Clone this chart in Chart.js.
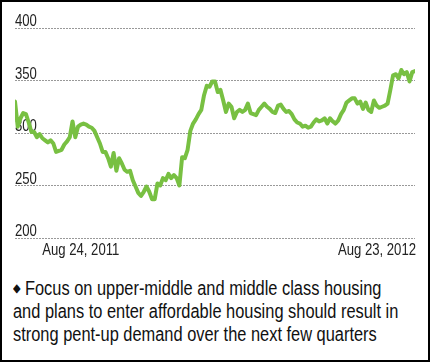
<!DOCTYPE html>
<html>
<head>
<meta charset="utf-8">
<script src="https://cdn.jsdelivr.net/npm/chart.js@4"></script>
<style>
  html, body { margin: 0; padding: 0; background: #fff; }
  #wrap { position: relative; width: 430px; height: 362px; overflow: hidden; }
  #frame { position: absolute; left: 0; top: 0; width: 430px; height: 362px; box-sizing: border-box; border: 2px solid #000; pointer-events: none; }
  #chartBox { position: absolute; left: 0; top: 0; width: 430px; height: 262px; }
  /* narrow Helvetica look: squeeze Liberation Sans horizontally */
  #note { position: absolute; left: 13px; top: 277px; width: 520px; white-space: nowrap; transform: scaleX(0.82); transform-origin: 0 0; font-family: "Liberation Sans", Arial, sans-serif; font-size: 20px; line-height: 23px; color: #111; }
  #note .dot { font-size: 12px; vertical-align: 3px; }
</style>
</head>
<body>
<div id="wrap">
  <div id="chartBox"><canvas id="myChart"></canvas></div>
  <div id="note"><span class="dot">&#9670;</span> Focus on upper-middle and middle class housing<br>and plans to enter affordable housing should result in<br>strong pent-up demand over the next few quarters</div>
  <div id="frame"></div>
</div>
<script>
// price series (Jun 2011 - Aug 23, 2012)
const prices = [
  330, 306, 314, 319, 318, 310, 301, 301, 296, 299, 295, 293, 291, 293, 290, 282, 283, 284, 289, 292, 296, 311, 296, 306, 308, 309, 308, 306,
  305, 302, 296, 290, 282, 282, 276, 268, 281, 264, 276, 271, 265, 263, 264, 255, 249, 243, 240, 244, 249, 244, 237, 237, 252, 250, 257, 255, 261, 257, 260, 257, 250, 277, 276, 284,
  302, 309, 313, 318, 322, 336, 345, 344, 349, 349, 339, 341, 331, 320, 328, 325, 314, 320, 322, 320, 322, 328, 319, 318, 317, 322, 325, 328, 325, 323, 320, 319, 326, 327, 323, 320, 321, 318,
  313, 310, 309, 306, 307, 305, 306, 310, 313, 311, 312, 314, 309, 314, 311, 309, 312, 318, 322, 329, 331, 333, 333, 328, 330, 323, 329, 322, 320, 331, 326, 324, 325, 326, 328, 341, 355, 356, 352, 360, 356, 358, 349, 358, 359
];
const xLabels = ['Aug 24, 2011', 'Aug 23, 2012'];
const xLabelIdx = [24, prices.length - 1];
const yTicks = [200, 250, 300, 350, 400];

const squeeze = 0.82;
const labelFont = '16px "Liberation Sans", Arial, sans-serif';

function narrowText(ctx, txt, x, y, align) {
    ctx.save();
    ctx.translate(x, y);
    ctx.scale(squeeze, 1);
    ctx.textAlign = align;
    ctx.fillText(txt, 0, 0);
    ctx.restore();
}

// y labels sit above their grid line (drawn before the line so it covers them)
const axisLabels = {
    id: 'axisLabels',
    beforeDatasetsDraw(chart) {
        const ctx = chart.ctx;
        const ys = chart.scales.y;
        ctx.save();
        ctx.font = labelFont;
        ctx.fillStyle = '#222';
        ctx.textBaseline = 'alphabetic';
        yTicks.forEach(function(v) {
            narrowText(ctx, String(v), chart.chartArea.left, ys.getPixelForValue(v) - 2, 'left');
        });
        ctx.restore();
    },
    afterDraw(chart) {
        const ctx = chart.ctx;
        const xs = chart.scales.x;
        const y = chart.chartArea.bottom + 17;
        ctx.save();
        ctx.font = labelFont;
        ctx.fillStyle = '#222';
        ctx.textBaseline = 'alphabetic';
        xLabels.forEach(function(lbl, i) {
            const last = i === xLabels.length - 1;
            narrowText(ctx, lbl, xs.getPixelForValue(xLabelIdx[i]) + (last ? 1 : 0), y, last ? 'right' : 'center');
        });
        ctx.restore();
    }
};

const data = {
    datasets: [{
        data: prices.map(function(v, i) { return { x: i, y: v }; }),
        borderColor: 'rgb(120, 192, 66)',
        borderWidth: 4,
        borderJoinStyle: 'round',
        borderCapStyle: 'round',
        pointRadius: 0,
        tension: 0,
        fill: false
    }]
};

const config = {
    type: 'line',
    data: data,
    options: {
        responsive: true,
        maintainAspectRatio: false,
        animation: false,
        layout: { padding: { left: 15, right: 15, top: 28, bottom: 24 } },
        plugins: { legend: { display: false }, tooltip: { enabled: false } },
        scales: {
            x: {
                type: 'linear',
                min: 0,
                max: prices.length - 1,
                display: false
            },
            y: {
                min: 200,
                max: 400,
                afterBuildTicks: function(scale) { scale.ticks = yTicks.map(function(v) { return { value: v }; }); },
                grid: { color: '#999', lineWidth: 1, drawTicks: false },
                border: { display: false, dash: [2, 1] },
                ticks: { display: false }
            }
        }
    },
    plugins: [axisLabels]
};

const myChart = new Chart(document.getElementById('myChart'), config);
</script>
</body>
</html>
